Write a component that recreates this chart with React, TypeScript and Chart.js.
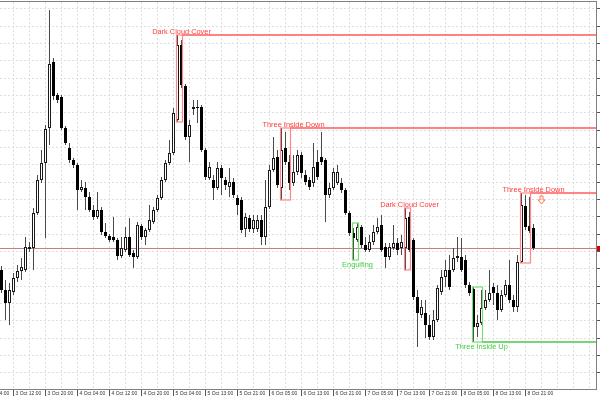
import React, { useEffect, useRef } from "react";
import { Chart, registerables } from "chart.js";

Chart.register(...registerables);

// Hourly OHLC bars (bar 0 = 3 Oct 09:00 ... bar 133 = 8 Oct 23:00)
const openPrices = [
  1.3119, 1.3099, 1.3086, 1.3097, 1.3111, 1.3118, 1.3119, 1.3140, 1.3141, 1.3176,
  1.3209, 1.3226, 1.3261, 1.3327, 1.3294, 1.3292, 1.3261, 1.3241, 1.3229, 1.3224,
  1.3199, 1.3201, 1.3192, 1.3179, 1.3172, 1.3179, 1.3157, 1.3153, 1.3152, 1.3149,
  1.3133, 1.3139, 1.3152, 1.3136, 1.3132, 1.3163, 1.3152, 1.3159, 1.3167, 1.3179,
  1.3191, 1.3209, 1.3226, 1.3236, 1.3269, 1.3344, 1.3303, 1.3252, 1.3280, 1.3282,
  1.3282, 1.3239, 1.3211, 1.3209, 1.3201, 1.3221, 1.3209, 1.3202, 1.3207, 1.3191,
  1.3189, 1.3160, 1.3171, 1.3160, 1.3160, 1.3169, 1.3152, 1.3182, 1.3219, 1.3232,
  1.3201, 1.3241, 1.3227, 1.3206, 1.3217, 1.3234, 1.3214, 1.3209, 1.3206, 1.3227,
  1.3232, 1.3229, 1.3194, 1.3201, 1.3206, 1.3206, 1.3199, 1.3176, 1.3156, 1.3149,
  1.3162, 1.3144, 1.3139, 1.3147, 1.3157, 1.3164, 1.3142, 1.3132, 1.3141, 1.3146,
  1.3141, 1.3141, 1.3172, 1.3149, 1.3092, 1.3074, 1.3076, 1.3064, 1.3052, 1.3069,
  1.3097, 1.3112, 1.3119, 1.3119, 1.3131, 1.3132, 1.3129, 1.3104, 1.3100, 1.3062,
  1.3066, 1.3081, 1.3089, 1.3102, 1.3096, 1.3079, 1.3094, 1.3104, 1.3089, 1.3082,
  1.3127, 1.3183, 1.3163, 1.3161,
];
const highPrices = [
  1.3123, 1.3109, 1.3106, 1.3116, 1.3124, 1.3131, 1.3152, 1.3147, 1.3181, 1.3214,
  1.3239, 1.3264, 1.3379, 1.3331, 1.3296, 1.3294, 1.3263, 1.3246, 1.3231, 1.3226,
  1.3209, 1.3207, 1.3197, 1.3184, 1.3197, 1.3182, 1.3166, 1.3155, 1.3172, 1.3151,
  1.3152, 1.3162, 1.3171, 1.3139, 1.3167, 1.3165, 1.3161, 1.3184, 1.3182, 1.3194,
  1.3212, 1.3229, 1.3249, 1.3281, 1.3354, 1.3349, 1.3305, 1.3269, 1.3289, 1.3289,
  1.3284, 1.3241, 1.3227, 1.3214, 1.3227, 1.3224, 1.3212, 1.3221, 1.3211, 1.3194,
  1.3192, 1.3176, 1.3174, 1.3174, 1.3174, 1.3174, 1.3209, 1.3224, 1.3252, 1.3239,
  1.3261, 1.3257, 1.3234, 1.3234, 1.3239, 1.3237, 1.3219, 1.3212, 1.3246, 1.3239,
  1.3257, 1.3231, 1.3206, 1.3221, 1.3224, 1.3211, 1.3201, 1.3178, 1.3161, 1.3166,
  1.3164, 1.3152, 1.3154, 1.3164, 1.3171, 1.3174, 1.3146, 1.3146, 1.3164, 1.3151,
  1.3154, 1.3181, 1.3177, 1.3151, 1.3099, 1.3089, 1.3089, 1.3074, 1.3079, 1.3104,
  1.3119, 1.3129, 1.3134, 1.3141, 1.3152, 1.3151, 1.3134, 1.3107, 1.3102, 1.3074,
  1.3099, 1.3099, 1.3119, 1.3106, 1.3104, 1.3099, 1.3109, 1.3129, 1.3094, 1.3134,
  1.3196, 1.3194, 1.3192, 1.3165,
];
const lowPrices = [
  1.3096, 1.3069, 1.3064, 1.3094, 1.3107, 1.3109, 1.3117, 1.3137, 1.3119, 1.3174,
  1.3206, 1.3151, 1.3244, 1.3289, 1.3286, 1.3259, 1.3244, 1.3226, 1.3221, 1.3179,
  1.3197, 1.3179, 1.3177, 1.3169, 1.3170, 1.3154, 1.3151, 1.3147, 1.3147, 1.3129,
  1.3131, 1.3137, 1.3132, 1.3121, 1.3130, 1.3149, 1.3144, 1.3157, 1.3165, 1.3177,
  1.3189, 1.3207, 1.3224, 1.3234, 1.3267, 1.3301, 1.3249, 1.3227, 1.3274, 1.3266,
  1.3237, 1.3209, 1.3209, 1.3189, 1.3199, 1.3194, 1.3199, 1.3192, 1.3191, 1.3174,
  1.3156, 1.3152, 1.3157, 1.3156, 1.3157, 1.3144, 1.3144, 1.3180, 1.3217, 1.3201,
  1.3189, 1.3224, 1.3199, 1.3203, 1.3214, 1.3211, 1.3204, 1.3199, 1.3202, 1.3209,
  1.3224, 1.3167, 1.3191, 1.3199, 1.3204, 1.3196, 1.3174, 1.3153, 1.3129, 1.3147,
  1.3141, 1.3137, 1.3137, 1.3144, 1.3155, 1.3137, 1.3121, 1.3129, 1.3139, 1.3134,
  1.3134, 1.3119, 1.3137, 1.3089, 1.3042, 1.3071, 1.3051, 1.3049, 1.3049, 1.3067,
  1.3094, 1.3102, 1.3099, 1.3117, 1.3127, 1.3117, 1.3101, 1.3093, 1.3047, 1.3052,
  1.3064, 1.3079, 1.3087, 1.3084, 1.3069, 1.3077, 1.3092, 1.3086, 1.3077, 1.3077,
  1.3126, 1.3159, 1.3156, 1.3139,
];
const closePrices = [
  1.3099, 1.3086, 1.3099, 1.3111, 1.3118, 1.3122, 1.3142, 1.3142, 1.3176, 1.3209,
  1.3226, 1.3260, 1.3325, 1.3293, 1.3289, 1.3261, 1.3246, 1.3229, 1.3224, 1.3199,
  1.3202, 1.3192, 1.3179, 1.3172, 1.3179, 1.3157, 1.3153, 1.3149, 1.3149, 1.3133,
  1.3141, 1.3152, 1.3134, 1.3132, 1.3164, 1.3152, 1.3159, 1.3169, 1.3179, 1.3191,
  1.3209, 1.3226, 1.3236, 1.3276, 1.3344, 1.3304, 1.3252, 1.3264, 1.3282, 1.3281,
  1.3239, 1.3212, 1.3222, 1.3201, 1.3221, 1.3211, 1.3204, 1.3207, 1.3194, 1.3184,
  1.3159, 1.3172, 1.3160, 1.3169, 1.3169, 1.3152, 1.3182, 1.3219, 1.3231, 1.3204,
  1.3239, 1.3227, 1.3206, 1.3217, 1.3234, 1.3216, 1.3207, 1.3202, 1.3222, 1.3212,
  1.3227, 1.3194, 1.3201, 1.3217, 1.3217, 1.3199, 1.3176, 1.3156, 1.3151, 1.3162,
  1.3144, 1.3139, 1.3147, 1.3157, 1.3162, 1.3139, 1.3132, 1.3142, 1.3146, 1.3139,
  1.3147, 1.3171, 1.3139, 1.3092, 1.3076, 1.3082, 1.3064, 1.3052, 1.3069, 1.3101,
  1.3112, 1.3119, 1.3102, 1.3131, 1.3133, 1.3119, 1.3104, 1.3096, 1.3062, 1.3066,
  1.3081, 1.3089, 1.3096, 1.3096, 1.3079, 1.3094, 1.3104, 1.3089, 1.3082, 1.3127,
  1.3184, 1.3162, 1.3158, 1.3141,
];

// Time axis labels (bar index -> label)
const tickIndices = [-5, 3, 11, 19, 27, 35, 43, 51, 59, 67, 75, 83, 91, 99, 107, 115, 123, 131];
const tickLabels = [
  "3 Oct 04:00", "3 Oct 12:00", "3 Oct 20:00", "4 Oct 04:00", "4 Oct 12:00", "4 Oct 20:00",
  "5 Oct 04:00", "5 Oct 13:00", "5 Oct 21:00", "6 Oct 05:00", "6 Oct 13:00", "6 Oct 21:00",
  "7 Oct 05:00", "7 Oct 13:00", "7 Oct 21:00", "8 Oct 05:00", "8 Oct 13:00", "8 Oct 21:00",
];

// Detected candlestick patterns
const patternNames = ["Dark Cloud Cover", "Three Inside Down", "Engulfing", "Dark Cloud Cover", "Three Inside Up", "Three Inside Down"];
const patternStart = [44, 70, 88, 101, 118, 130];
const patternEnd = [45, 72, 89, 102, 120, 132];
const patternLabelAt = [45, 73, 89, 102, 120, 133];
const patternBullish = [false, false, true, false, true, false];
const patternHasLevel = [true, true, false, false, true, true];
const signalArrowAt = 135;

const X_MIN = -0.375;
const X_MAX = 148.625;
const Y_MIN = 1.3;
const Y_MAX = 1.3387;
const Y_GRID_TOP = 1.338;
const Y_GRID_STEP = 0.001732;

const overlayPlugin = {
  id: "patternOverlay",
  beforeDatasetsDraw(chart: any) {
    const { ctx, chartArea: a, scales } = chart;
    const y = scales.y;
    const last = closePrices[closePrices.length - 1];
    const py = Math.round(y.getPixelForValue(last)) + 0.5;
    ctx.save();
    ctx.strokeStyle = "rgb(196,128,128)";
    ctx.lineWidth = 1;
    ctx.beginPath();
    ctx.moveTo(a.left, py);
    ctx.lineTo(a.right, py);
    ctx.stroke();
    ctx.restore();
  },
  afterDatasetsDraw(chart: any) {
    const { ctx, chartArea: a, scales } = chart;
    const x = scales.x;
    const y = scales.y;
    ctx.save();
    let lastLevelY = 0;
    patternNames.forEach((name, k) => {
      const s = patternStart[k];
      const e = patternEnd[k];
      let hi = -Infinity;
      let lo = Infinity;
      for (let i = s; i <= e; i++) {
        hi = Math.max(hi, highPrices[i]);
        lo = Math.min(lo, lowPrices[i]);
      }
      const bull = patternBullish[k];
      const x1 = x.getPixelForValue(s) - 1;
      const x2 = x.getPixelForValue(e) + 1;
      const yTop = Math.round(y.getPixelForValue(hi));
      const yBot = Math.round(y.getPixelForValue(lo));
      const rectColor = bull ? "rgb(120,220,120)" : "rgb(255,135,135)";
      const lineColor = bull ? "rgb(70,200,70)" : "rgb(255,90,90)";
      const textColor = bull ? "rgb(60,210,60)" : "rgb(255,60,60)";
      ctx.lineWidth = 1.2;
      ctx.strokeStyle = rectColor;
      ctx.strokeRect(x1, yTop, x2 - x1, yBot - yTop);
      if (patternHasLevel[k]) {
        const ly = bull ? yBot : yTop;
        lastLevelY = ly;
        ctx.strokeStyle = lineColor;
        ctx.lineWidth = 1.6;
        ctx.beginPath();
        ctx.moveTo(x2, ly);
        ctx.lineTo(a.right, ly);
        ctx.stroke();
      }
      ctx.fillStyle = textColor;
      ctx.font = "7.4px 'Liberation Sans', Arial, sans-serif";
      ctx.textAlign = "center";
      ctx.textBaseline = "alphabetic";
      const tx = x.getPixelForValue(patternLabelAt[k]);
      const ty = bull ? yBot + 7 : yTop - 1;
      ctx.fillText(name, tx, ty);
    });
    // signal arrow (hollow down arrow) under the last level
    const ax = x.getPixelForValue(signalArrowAt);
    const at = lastLevelY + 3;
    ctx.strokeStyle = "rgb(255,120,80)";
    ctx.lineWidth = 1;
    ctx.beginPath();
    ctx.moveTo(ax - 1.5, at);
    ctx.lineTo(ax + 1.5, at);
    ctx.lineTo(ax + 1.5, at + 4);
    ctx.lineTo(ax + 3.5, at + 4);
    ctx.lineTo(ax, at + 8);
    ctx.lineTo(ax - 3.5, at + 4);
    ctx.lineTo(ax - 1.5, at + 4);
    ctx.closePath();
    ctx.stroke();
    ctx.restore();
  },
  afterDraw(chart: any) {
    const { ctx, chartArea: a, scales } = chart;
    const y = scales.y;
    ctx.save();
    ctx.strokeStyle = "rgb(128,128,128)";
    ctx.lineWidth = 1;
    ctx.beginPath();
    ctx.moveTo(0, a.top - 0.5);
    ctx.lineTo(a.right + 1, a.top - 0.5);
    ctx.stroke();
    const last = closePrices[closePrices.length - 1];
    const py = Math.round(y.getPixelForValue(last));
    ctx.fillStyle = "rgb(220,0,0)";
    ctx.fillRect(a.right + 1, py - 2, 8, 5);
    ctx.restore();
  },
};

export default function App() {
  const canvasRef = useRef<HTMLCanvasElement | null>(null);

  useEffect(() => {
    document.body.style.margin = "0";
    const canvas = canvasRef.current;
    if (!canvas) return;

    const bodies = openPrices.map((o, i) => ({ x: i, y: [o, closePrices[i]] }));
    const wicks = openPrices.map((_, i) => ({ x: i, y: [lowPrices[i], highPrices[i]] }));
    const bull = openPrices.map((o, i) => closePrices[i] > o);

    const chart = new Chart(canvas, {
      type: "bar",
      data: {
        datasets: [
          {
            label: "body",
            data: bodies as any,
            order: 0,
            grouped: false,
            barThickness: 3,
            maxBarThickness: 3,
            backgroundColor: bull.map((b) => (b ? "#ffffff" : "#000000")),
            borderColor: bull.map((b) => (b ? "#1a1a1a" : "#000000")),
            borderWidth: 1,
            borderSkipped: false,
            inflateAmount: 0,
          } as any,
          {
            label: "wick",
            data: wicks as any,
            order: 1,
            grouped: false,
            barThickness: 1,
            maxBarThickness: 1,
            backgroundColor: "#4a4a4a",
            borderWidth: 0,
            inflateAmount: 0,
          } as any,
        ],
      },
      options: {
        responsive: false,
        animation: false,
        events: [],
        layout: { padding: { top: 2, left: 0, right: 0, bottom: 0 } },
        plugins: { legend: { display: false }, tooltip: { enabled: false } },
        scales: {
          x: {
            type: "linear",
            min: X_MIN,
            max: X_MAX,
            offset: false,
            afterBuildTicks: (scale: any) => {
              const vals: number[] = [-5];
              for (let v = 3; v <= 147; v += 4) vals.push(v);
              scale.ticks = vals.map((v) => ({ value: v }));
            },
            afterFit: (scale: any) => {
              scale.height = 11;
              scale.paddingLeft = 0;
              scale.paddingRight = 0;
            },
            ticks: {
              autoSkip: false,
              maxRotation: 0,
              minRotation: 0,
              align: "start",
              labelOffset: 2,
              padding: -5,
              color: "#333333",
              font: { family: "'Liberation Sans', Arial, sans-serif", size: 5 },
              callback: (value: any) => {
                const k = tickIndices.indexOf(Number(value));
                return k >= 0 ? tickLabels[k] : "";
              },
            },
            grid: {
              offset: false,
              color: "rgb(222,222,222)",
              lineWidth: 1,
              drawTicks: true,
              tickLength: 7,
              tickColor: (ctx: any) =>
                ctx.tick && tickIndices.indexOf(ctx.tick.value) >= 0 ? "#555555" : "rgba(0,0,0,0)",
            },
            border: { display: true, color: "rgb(128,128,128)", width: 1, dash: [2, 2] },
          },
          y: {
            type: "linear",
            position: "right",
            min: Y_MIN,
            max: Y_MAX,
            afterBuildTicks: (scale: any) => {
              const vals: number[] = [];
              for (let k = 0; k < 22; k++) vals.push(Y_GRID_TOP - k * Y_GRID_STEP);
              scale.ticks = vals.map((v) => ({ value: v }));
            },
            afterFit: (scale: any) => {
              scale.width = 4;
              scale.paddingTop = 0;
              scale.paddingBottom = 0;
            },
            ticks: { display: false },
            grid: {
              color: "rgb(222,222,222)",
              lineWidth: 1,
              drawTicks: true,
              tickLength: 4,
              tickColor: "#555555",
            },
            border: { display: true, color: "rgb(128,128,128)", width: 1, dash: [2, 2] },
          },
        },
      } as any,
      plugins: [overlayPlugin],
    });

    return () => chart.destroy();
  }, []);

  return (
    <div style={{ width: 600, height: 400, overflow: "hidden" }}>
      <canvas ref={canvasRef} width={600} height={400} style={{ display: "block" }} />
    </div>
  );
}
